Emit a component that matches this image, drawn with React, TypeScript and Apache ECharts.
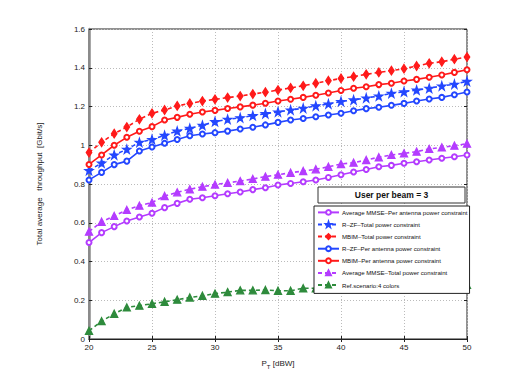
import React, { useEffect, useRef } from "react";
import * as echarts from "echarts";

const pT = [20, 21, 22, 23, 24, 25, 26, 27, 28, 29, 30, 31, 32, 33, 34, 35, 36, 37, 38, 39, 40, 41, 42, 43, 44, 45, 46, 47, 48, 49, 50];

const mmsePer = [0.498, 0.549, 0.58, 0.609, 0.63, 0.649, 0.678, 0.7, 0.721, 0.729, 0.739, 0.75, 0.759, 0.771, 0.781, 0.795, 0.803, 0.812, 0.821, 0.834, 0.848, 0.862, 0.875, 0.889, 0.896, 0.907, 0.915, 0.924, 0.933, 0.941, 0.95];
const rzfTotal = [0.87, 0.908, 0.95, 0.979, 1.015, 1.03, 1.051, 1.073, 1.087, 1.103, 1.122, 1.134, 1.142, 1.153, 1.163, 1.172, 1.182, 1.191, 1.203, 1.213, 1.226, 1.234, 1.244, 1.254, 1.268, 1.276, 1.285, 1.294, 1.306, 1.315, 1.33];
const mbimTotal = [0.962, 1.015, 1.06, 1.094, 1.134, 1.165, 1.182, 1.203, 1.216, 1.228, 1.237, 1.246, 1.254, 1.264, 1.274, 1.285, 1.296, 1.307, 1.32, 1.333, 1.345, 1.354, 1.366, 1.376, 1.385, 1.395, 1.409, 1.423, 1.431, 1.444, 1.455];
const rzfPer = [0.821, 0.86, 0.9, 0.918, 0.97, 0.991, 1.01, 1.03, 1.049, 1.058, 1.065, 1.073, 1.084, 1.093, 1.105, 1.118, 1.13, 1.138, 1.147, 1.156, 1.165, 1.178, 1.189, 1.196, 1.206, 1.216, 1.228, 1.239, 1.247, 1.261, 1.275];
const mbimPer = [0.901, 0.95, 1.0, 1.041, 1.072, 1.096, 1.13, 1.144, 1.16, 1.172, 1.18, 1.19, 1.198, 1.207, 1.217, 1.228, 1.237, 1.247, 1.258, 1.27, 1.283, 1.294, 1.302, 1.313, 1.32, 1.332, 1.34, 1.351, 1.363, 1.376, 1.39];
const mmseTotal = [0.554, 0.605, 0.635, 0.666, 0.688, 0.704, 0.738, 0.757, 0.773, 0.786, 0.797, 0.806, 0.815, 0.826, 0.838, 0.848, 0.858, 0.867, 0.876, 0.889, 0.903, 0.91, 0.924, 0.938, 0.95, 0.958, 0.967, 0.981, 0.989, 0.998, 1.008];
const refScenario = [0.042, 0.092, 0.13, 0.163, 0.172, 0.182, 0.192, 0.203, 0.214, 0.223, 0.234, 0.242, 0.251, 0.251, 0.253, 0.249, 0.249, 0.262, 0.262, 0.263, 0.264, 0.265, 0.266, 0.267, 0.268, 0.27, 0.272, 0.274, 0.276, 0.278, 0.279];

const seriesNames = [
  "Average MMSE–Per antenna power constraint",
  "R–ZF–Total power constraint",
  "MBIM–Total power constraint",
  "R–ZF–Per antenna power constraint",
  "MBIM–Per antenna power constraint",
  "Average MMSE–Total power constraint",
  "Ref.scenario:4 colors",
];
const boxTitle = "User per beam = 3";
const xTicks = [20, 25, 30, 35, 40, 45, 50];

const FONT = "'Liberation Sans', Arial, Helvetica, sans-serif";
const RED = "#ff1a1a";
const BLUE = "#2447ff";
const PURPLE = "#b43cff";
const GREEN = "#2e8b3c";
const STAR = "path://M50,0 L61.8,35.1 L98.1,35.1 L69,56.8 L79.4,90.5 L50,69.1 L20.6,90.5 L31,56.8 L1.9,35.1 L38.2,35.1 Z";

function mk(
  name: string,
  values: number[],
  color: string,
  symbol: string,
  symbolSize: any,
  dashed: boolean
) {
  return {
    type: "line",
    name,
    data: pT.map((x, i) => [x, values[i]]),
    symbol,
    symbolSize,
    showSymbol: true,
    color,
    lineStyle: { color, width: 1.6, type: dashed ? [4, 3] : "solid" },
    itemStyle: { color, borderColor: color, borderWidth: 1.3 },
    emphasis: { disabled: true },
    z: 3,
  };
}

export default function App() {
  const ref = useRef<HTMLDivElement>(null);
  useEffect(() => {
    const chart = echarts.init(ref.current!, null, { renderer: "svg" });
    const option: any = {
      animation: false,
      backgroundColor: "#ffffff",
      textStyle: { fontFamily: FONT },
      grid: {
        left: 89,
        top: 29,
        right: 51,
        bottom: 43,
        show: true,
        borderColor: "#222",
        borderWidth: 1,
        backgroundColor: "transparent",
      },
      xAxis: [
        {
          type: "value",
          min: 20,
          max: 50,
          interval: 5,
          name: "{a|P}{s|T}{a| [dBW]}",
          nameLocation: "middle",
          nameGap: 18,
          nameTextStyle: {
            rich: {
              a: { fontSize: 8, color: "#222", fontFamily: FONT },
              s: { fontSize: 6, color: "#222", fontFamily: FONT, padding: [7, 0, 0, 0] },
            },
          },
          axisLine: { show: true, onZero: false, lineStyle: { color: "#222", width: 1 } },
          axisTick: { show: true, inside: true, length: 3, lineStyle: { color: "#222" } },
          axisLabel: {
            fontSize: 8,
            color: "#222",
            margin: 4,
            fontFamily: FONT,
            formatter: (v: number) => (xTicks.includes(v) ? String(v) : ""),
          },
          splitLine: { show: true, lineStyle: { color: "#bbb", type: [1, 2], width: 1 } },
        },
        {
          type: "value",
          min: 20,
          max: 50,
          interval: 5,
          position: "top",
          axisLine: { show: false },
          axisTick: { show: true, inside: true, length: 3, lineStyle: { color: "#222" } },
          axisLabel: { show: false },
          splitLine: { show: false },
        },
      ],
      yAxis: [
        {
          type: "value",
          min: 0,
          max: 1.6,
          interval: 0.2,
          name: "Total average   throughput  [Gbit/s]",
          nameLocation: "middle",
          nameGap: 46,
          nameTextStyle: { fontSize: 8, color: "#222", fontFamily: FONT },
          axisLine: { show: true, onZero: false, lineStyle: { color: "#8a8a8a", width: 2.5 } },
          axisTick: { show: true, inside: true, length: 3, lineStyle: { color: "#222" } },
          axisLabel: {
            fontSize: 8,
            color: "#222",
            margin: 4,
            fontFamily: FONT,
            formatter: (v: number) => String(+v.toFixed(1)),
          },
          splitLine: { show: true, lineStyle: { color: "#bbb", type: [1, 2], width: 1 } },
        },
        {
          type: "value",
          min: 0,
          max: 1.6,
          interval: 0.2,
          position: "right",
          axisLine: { show: false },
          axisTick: { show: true, inside: true, length: 3, lineStyle: { color: "#222" } },
          axisLabel: { show: false },
          splitLine: { show: false },
        },
      ],
      legend: {
        orient: "vertical",
        left: 314,
        top: 206,
        backgroundColor: "#ffffff",
        borderColor: "#222",
        borderWidth: 1,
        borderRadius: 0,
        padding: [3, 2, 5, 3],
        itemGap: 5.3,
        itemWidth: 21,
        itemHeight: 6,
        z: 10,
        data: seriesNames,
        textStyle: { fontSize: 6.1, color: "#111", fontFamily: FONT, padding: [0, 0, 0, -2] },
      },
      graphic: [
        {
          type: "rect",
          z: 10,
          shape: { x: 318, y: 187, width: 147, height: 16 },
          style: { fill: "#fff", stroke: "#333", lineWidth: 1 },
        },
        {
          type: "text",
          z: 11,
          x: 391.5,
          y: 195,
          style: {
            text: boxTitle,
            font: "bold 8.5px " + FONT,
            fill: "#111",
            textAlign: "center",
            textVerticalAlign: "middle",
          },
        },
      ],
      series: [
        mk(seriesNames[0], mmsePer, PURPLE, "emptyCircle", 5, false),
        mk(seriesNames[1], rzfTotal, BLUE, STAR, 8, true),
        mk(seriesNames[2], mbimTotal, RED, "diamond", [5.5, 8.5], true),
        mk(seriesNames[3], rzfPer, BLUE, "emptyCircle", 5, false),
        mk(seriesNames[4], mbimPer, RED, "emptyCircle", 5, false),
        mk(seriesNames[5], mmseTotal, PURPLE, "triangle", 7, true),
        mk(seriesNames[6], refScenario, GREEN, "triangle", 7, true),
      ],
    };
    chart.setOption(option);
    return () => chart.dispose();
  }, []);
  return (
    <div
      ref={ref}
      style={{ position: "absolute", left: 0, top: 0, width: 518, height: 382 }}
    />
  );
}
